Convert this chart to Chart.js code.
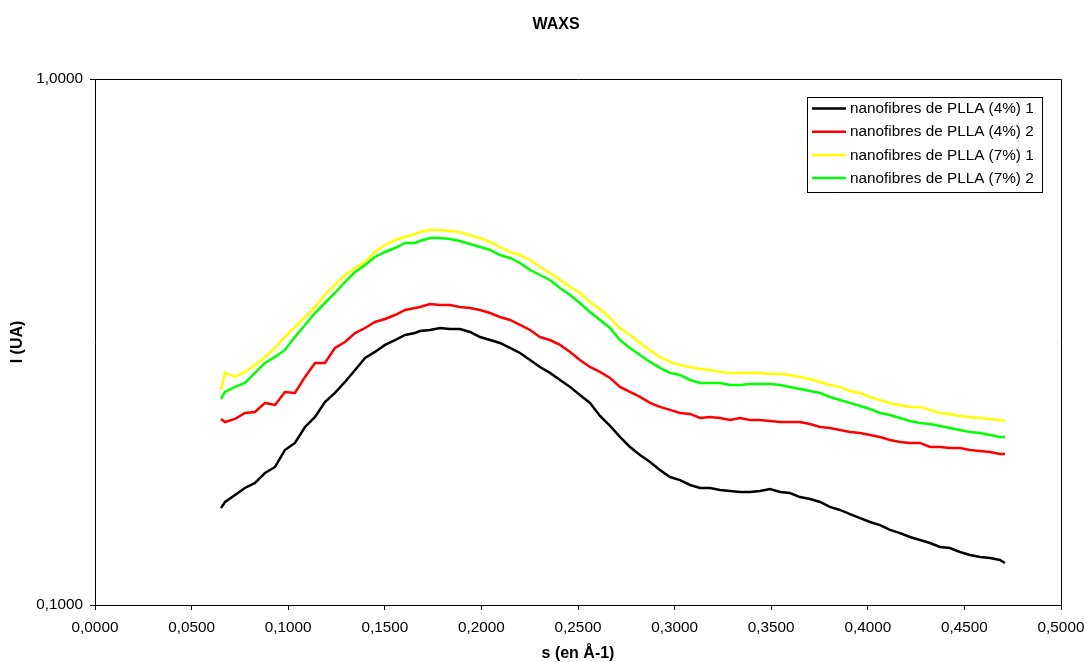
<!DOCTYPE html>
<html><head><meta charset="utf-8">
<script src="https://cdn.jsdelivr.net/npm/chart.js@4/dist/chart.umd.min.js"></script>
<style>html,body{margin:0;padding:0;background:#fff;overflow:hidden}</style>
</head><body><canvas id="c" width="1086" height="662"></canvas>
<script>
const sValues = [
 0.0652,0.0673,0.0725,0.0776,0.0828,0.0880,0.0932,0.0983,0.1035,0.1087,
 0.1139,0.1190,0.1242,0.1294,0.1346,0.1398,0.1449,0.1501,0.1553,0.1605,
 0.1656,0.1682,0.1734,0.1786,0.1837,0.1889,0.1941,0.1993,0.2045,0.2096,
 0.2148,0.2200,0.2252,0.2303,0.2355,0.2407,0.2459,0.2510,0.2562,0.2614,
 0.2666,0.2717,0.2769,0.2821,0.2873,0.2924,0.2976,0.3028,0.3080,0.3132,
 0.3183,0.3235,0.3287,0.3339,0.3390,0.3442,0.3494,0.3546,0.3597,0.3649,
 0.3701,0.3753,0.3804,0.3856,0.3908,0.3960,0.4011,0.4063,0.4115,0.4167,
 0.4218,0.4270,0.4322,0.4374,0.4425,0.4477,0.4529,0.4581,0.4633,0.4684,
 0.4710];
const pla4_1 = [
 0.1529,0.1570,0.1619,0.1669,0.1706,0.1782,0.1830,0.1971,0.2033,0.2180,
 0.2278,0.2432,0.2530,0.2655,0.2798,0.2949,0.3028,0.3122,0.3190,0.3261,
 0.3289,0.3318,0.3333,0.3362,0.3348,0.3348,0.3304,0.3232,0.3190,0.3149,
 0.3081,0.3014,0.2923,0.2835,0.2762,0.2678,0.2598,0.2508,0.2422,0.2288,
 0.2190,0.2087,0.1997,0.1928,0.1870,0.1806,0.1751,0.1728,0.1691,0.1669,
 0.1669,0.1654,0.1647,0.1640,0.1640,0.1647,0.1662,0.1640,0.1633,0.1604,
 0.1590,0.1570,0.1536,0.1516,0.1489,0.1463,0.1438,0.1419,0.1389,0.1370,
 0.1347,0.1329,0.1312,0.1289,0.1283,0.1261,0.1245,0.1234,0.1228,0.1218,
 0.1202];
const pla4_2 = [
 0.2258,0.2228,0.2258,0.2318,0.2328,0.2422,0.2401,0.2541,0.2530,0.2714,
 0.2885,0.2885,0.3081,0.3162,0.3289,0.3362,0.3452,0.3497,0.3559,0.3638,
 0.3670,0.3686,0.3735,0.3718,0.3718,0.3686,0.3670,0.3638,0.3590,0.3528,
 0.3482,0.3407,0.3333,0.3232,0.3190,0.3122,0.3028,0.2923,0.2835,0.2774,
 0.2702,0.2598,0.2541,0.2486,0.2422,0.2380,0.2349,0.2318,0.2308,0.2268,
 0.2278,0.2268,0.2248,0.2268,0.2248,0.2248,0.2238,0.2228,0.2228,0.2228,
 0.2209,0.2180,0.2170,0.2152,0.2133,0.2124,0.2105,0.2087,0.2059,0.2041,
 0.2033,0.2033,0.1997,0.1997,0.1988,0.1988,0.1971,0.1963,0.1954,0.1937,
 0.1937];
const pla7_1 = [
 0.2564,0.2762,0.2714,0.2774,0.2860,0.2962,0.3081,0.3232,0.3377,0.3528,
 0.3686,0.3885,0.4059,0.4240,0.4372,0.4489,0.4690,0.4835,0.4942,0.5008,
 0.5074,0.5119,0.5164,0.5164,0.5141,0.5119,0.5052,0.4986,0.4899,0.4793,
 0.4690,0.4628,0.4528,0.4392,0.4278,0.4149,0.4023,0.3919,0.3768,0.3654,
 0.3513,0.3362,0.3261,0.3149,0.3054,0.2962,0.2898,0.2860,0.2835,0.2810,
 0.2798,0.2774,0.2762,0.2762,0.2762,0.2762,0.2750,0.2750,0.2738,0.2714,
 0.2690,0.2655,0.2620,0.2598,0.2552,0.2530,0.2486,0.2454,0.2422,0.2401,
 0.2380,0.2380,0.2349,0.2318,0.2308,0.2288,0.2278,0.2268,0.2258,0.2248,
 0.2238];
const pla7_2 = [
 0.2465,0.2541,0.2598,0.2643,0.2762,0.2885,0.2962,0.3054,0.3232,0.3407,
 0.3590,0.3751,0.3919,0.4112,0.4296,0.4430,0.4588,0.4690,0.4772,0.4878,
 0.4878,0.4921,0.4986,0.4986,0.4964,0.4921,0.4857,0.4793,0.4731,0.4628,
 0.4568,0.4469,0.4334,0.4240,0.4149,0.4006,0.3885,0.3751,0.3606,0.3482,
 0.3362,0.3190,0.3081,0.2988,0.2898,0.2823,0.2762,0.2738,0.2678,0.2643,
 0.2643,0.2643,0.2620,0.2620,0.2632,0.2632,0.2632,0.2620,0.2598,0.2575,
 0.2552,0.2530,0.2486,0.2454,0.2422,0.2390,0.2359,0.2318,0.2298,0.2268,
 0.2238,0.2218,0.2209,0.2190,0.2170,0.2152,0.2133,0.2124,0.2105,0.2087,
 0.2087];
const seriesLabels = ['nanofibres de PLLA (4%) 1','nanofibres de PLLA (4%) 2','nanofibres de PLLA (7%) 1','nanofibres de PLLA (7%) 2'];
const xTickValues = [0,0.05,0.1,0.15,0.2,0.25,0.3,0.35,0.4,0.45,0.5];
const yTickValues = [0.1,1];
const chartTitle = 'WAXS';
const xTitle = 's (en Å-1)';
const yTitle = 'I (UA)';

const FAM = '"Liberation Sans", Arial, Helvetica, sans-serif';
const fmt = v => Number(v).toFixed(4).replace('.', ',');
const colors = ['#000000','#ff0000','#ffff00','#00ff00'];
const allSeries = [pla4_1, pla4_2, pla7_1, pla7_2];

const datasets = allSeries.map((arr, k) => ({
  label: seriesLabels[k],
  data: sValues.map((s, i) => ({x: s, y: arr[i]})),
  borderColor: colors[k],
  backgroundColor: colors[k],
  borderWidth: 2.5,
  pointRadius: 0,
  tension: 0,
  fill: false,
  order: 3 - k
}));

const decor = {
  id: 'decor',
  afterDraw(chart) {
    const {ctx, chartArea: a} = chart;
    ctx.save();
    ctx.strokeStyle = '#000'; ctx.lineWidth = 1;
    ctx.beginPath();
    ctx.moveTo(Math.round(a.left) + 0.5, Math.round(a.top) + 0.5);
    ctx.lineTo(Math.round(a.right) + 0.5, Math.round(a.top) + 0.5);
    ctx.lineTo(Math.round(a.right) + 0.5, Math.round(a.bottom) + 0.5);
    ctx.stroke();
    ctx.fillStyle = '#000';
    ctx.font = 'bold 16px ' + FAM;
    ctx.textAlign = 'center'; ctx.textBaseline = 'middle';
    ctx.fillText(chartTitle, 556, 25);
    const L = {left: 807.5, top: 97.5, right: 1042.5, bottom: 192.5};
    ctx.fillStyle = '#fff';
    ctx.fillRect(L.left, L.top, L.right - L.left, L.bottom - L.top);
    ctx.strokeStyle = '#000'; ctx.lineWidth = 1;
    ctx.strokeRect(L.left, L.top, L.right - L.left, L.bottom - L.top);
    ctx.font = '15.3px ' + FAM;
    ctx.textAlign = 'left'; ctx.textBaseline = 'middle';
    chart.data.datasets.forEach((ds, i) => {
      const y = 108.5 + i * 23.2;
      ctx.strokeStyle = ds.borderColor; ctx.lineWidth = 2.5;
      ctx.beginPath(); ctx.moveTo(812, y); ctx.lineTo(846, y); ctx.stroke();
      ctx.fillStyle = '#000';
      ctx.fillText(ds.label, 850, y + 0.5);
    });
    ctx.restore();
  }
};

new Chart(document.getElementById('c'), {
  type: 'line',
  data: {datasets},
  options: {
    responsive: false,
    animation: false,
    devicePixelRatio: 1,
    layout: {padding: {top: 79, right: 25, left: 0, bottom: 0}},
    plugins: {legend: {display: false}, title: {display: false}, tooltip: {enabled: false}},
    scales: {
      x: {
        type: 'linear', min: 0, max: 0.5,
        afterFit: s => { s.height = 57; s.paddingLeft = 0; s.paddingRight = 0; },
        afterBuildTicks: s => { s.ticks = xTickValues.map(v => ({value: v})); },
        ticks: {callback: v => fmt(v), color: '#000', font: {size: 15.3, family: FAM}, padding: 9, maxRotation: 0, autoSkip: false},
        grid: {display: true, drawOnChartArea: false, drawTicks: true, tickLength: 5, tickColor: '#000', tickWidth: 1},
        border: {display: true, color: '#000', width: 1},
        title: {display: true, text: xTitle, color: '#000', font: {size: 16, weight: 'bold', family: FAM, lineHeight: 1}, padding: {top: 0, bottom: 0}}
      },
      y: {
        type: 'logarithmic', min: 0.1, max: 1,
        afterFit: s => { s.width = 95; s.paddingTop = 0; s.paddingBottom = 0; },
        afterBuildTicks: s => { s.ticks = yTickValues.map(v => ({value: v})); },
        ticks: {callback: v => fmt(v), color: '#000', font: {size: 15.3, family: FAM}, padding: 7, autoSkip: false},
        grid: {display: true, drawOnChartArea: false, drawTicks: true, tickLength: 5, tickColor: '#000', tickWidth: 1},
        border: {display: true, color: '#000', width: 1},
        title: {display: true, text: yTitle, color: '#000', font: {size: 16, weight: 'bold', family: FAM, lineHeight: 1}, padding: {top: 10, bottom: 0}}
      }
    }
  },
  plugins: [decor]
});
</script>
</body></html>
